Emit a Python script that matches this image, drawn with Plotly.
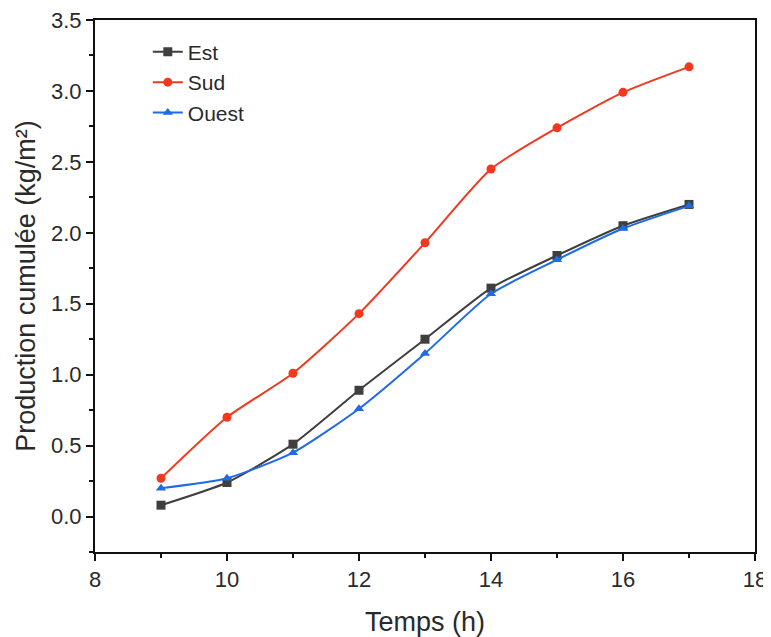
import plotly.graph_objects as go

hours = [9, 10, 11, 12, 13, 14, 15, 16, 17]
est = [0.08, 0.24, 0.51, 0.89, 1.25, 1.61, 1.84, 2.05, 2.20]
sud = [0.27, 0.70, 1.01, 1.43, 1.93, 2.45, 2.74, 2.99, 3.17]
ouest = [0.20, 0.27, 0.45, 0.76, 1.15, 1.57, 1.81, 2.03, 2.19]

series = [
    ("Est", est, "#3f3f3f", "square"),
    ("Sud", sud, "#f2381f", "circle"),
    ("Ouest", ouest, "#1f6be6", "triangle-up"),
]

fig = go.Figure()
for name, vals, color, sym in series:
    fig.add_trace(go.Scatter(
        x=hours, y=vals, name=name, mode="lines+markers",
        line=dict(color=color, width=2, shape="spline", smoothing=0.6),
        marker=dict(symbol=sym, size=9, color=color),
    ))

font_family = "Liberation Sans, Arial, sans-serif"
fig.update_layout(
    width=763, height=629,
    margin=dict(l=87, r=16, t=12, b=85),
    paper_bgcolor="white", plot_bgcolor="white",
    font=dict(family=font_family, size=22, color="#2a2a2a"),
    showlegend=True,
    legend=dict(x=0.08, y=0.978, xanchor="left", yanchor="top",
                bgcolor="rgba(0,0,0,0)", font=dict(size=21, color="#2a2a2a"),
                tracegroupgap=0),
)
fig.update_xaxes(
    range=[8, 18], tick0=8, dtick=2, ticks="outside", ticklen=7, tickwidth=2,
    tickcolor="#111",
    minor=dict(dtick=1, ticks="outside", ticklen=4, tickwidth=2, tickcolor="#111"),
    showline=True, linewidth=2, linecolor="#111", mirror=True,
    showgrid=False, zeroline=False, automargin=False, ticklabeloverflow="allow",
    title=dict(text="Temps (h)", font=dict(size=27), standoff=22),
    tickfont=dict(size=22),
)
fig.update_yaxes(
    range=[-0.25, 3.5], tick0=0, dtick=0.5, tickformat=".1f",
    ticks="outside", ticklen=7, tickwidth=2, tickcolor="#111",
    minor=dict(dtick=0.25, ticks="outside", ticklen=4, tickwidth=2, tickcolor="#111"),
    showline=True, linewidth=2, linecolor="#111", mirror=True,
    showgrid=False, zeroline=False, automargin=False, ticklabeloverflow="allow",
    title=dict(text="Production cumulée (kg/m²)", font=dict(size=27), standoff=8),
    tickfont=dict(size=22),
)

fig.write_html("out.html")
